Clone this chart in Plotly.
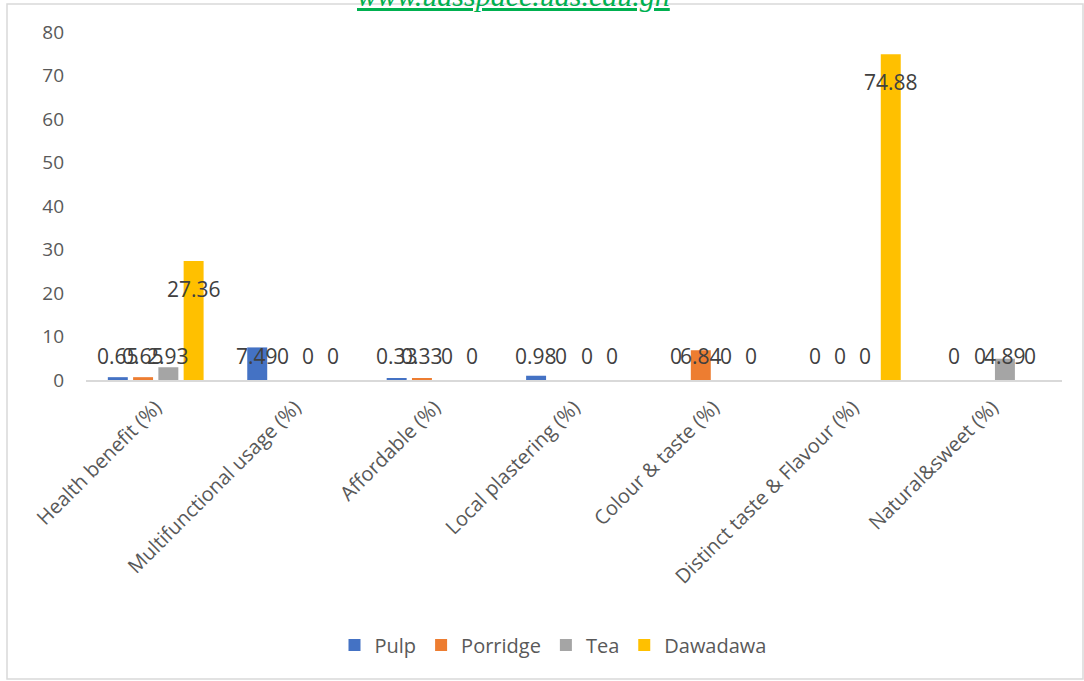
import plotly.graph_objects as go

categories = [
    "Health benefit (%)",
    "Multifunctional usage (%)",
    "Affordable (%)",
    "Local plastering (%)",
    "Colour & taste (%)",
    "Distinct taste & Flavour (%)",
    "Natural&sweet (%)",
]
pulp = [0.65, 7.49, 0.33, 0.98, 0, 0, 0]
porridge = [0.65, 0, 0.33, 0, 6.84, 0, 0]
tea = [2.93, 0, 0, 0, 0, 0, 4.89]
dawadawa = [27.36, 0, 0, 0, 0, 74.88, 0]

series = [
    ("Pulp", pulp, "#4472C4"),
    ("Porridge", porridge, "#ED7D31"),
    ("Tea", tea, "#A5A5A5"),
    ("Dawadawa", dawadawa, "#FFC000"),
]

FONT = "Open Sans"
W, H = 1084, 681
L, R, T, B = 86, 22, 32, 301
plot_w = W - L - R
plot_h = H - T - B

fig = go.Figure()
for name, vals, col in series:
    fig.add_trace(go.Bar(name=name, x=categories, y=vals, marker=dict(color=col, line_width=0)))

# data labels, one per bar, offset horizontally to sit over each bar in the group
slot_px = plot_w / len(categories) * (1 - 0.275) / len(series)
for i, (name, vals, col) in enumerate(series):
    for c, v in zip(categories, vals):
        big = v > 15
        fig.add_annotation(
            x=c, y=v if big else 0, xref="x", yref="y",
            text=f"{v:g}", showarrow=False,
            xshift=(i - 1.5) * slot_px,
            yshift=-28 if big else 24,
            yanchor="middle",
            font=dict(family=FONT, size=21, color="#404040"),
        )

def px_x(p):
    return (p - L) / plot_w

def px_y(p):
    return (H - B - p) / plot_h

# chart border
fig.add_shape(type="rect", xref="paper", yref="paper",
              x0=px_x(7), x1=px_x(1083), y0=px_y(679), y1=px_y(4),
              line=dict(color="#D9D9D9", width=1.5), fillcolor="rgba(0,0,0,0)", layer="below")

# repository header, running off the top edge
fig.add_annotation(
    x=px_x(513), y=px_y(14), xref="paper", yref="paper",
    text="<u>www.udsspace.uds.edu.gh</u>", showarrow=False,
    xanchor="center", yanchor="bottom",
    font=dict(family="Liberation Serif", size=30, color="#00B050", style="italic"),
)

fig.update_layout(
    width=W, height=H,
    margin=dict(l=L, r=R, t=T, b=B, autoexpand=False),
    paper_bgcolor="white", plot_bgcolor="white",
    barmode="group", bargap=0.275, bargroupgap=0.21,
    font=dict(family=FONT, color="#595959", size=19),
    showlegend=True,
    legend=dict(orientation="h", x=px_x(553), xanchor="center", y=px_y(645), yanchor="middle",
                font=dict(family=FONT, size=20, color="#595959"), itemwidth=30),
    xaxis=dict(tickangle=-45, showline=True, linecolor="#D9D9D9", linewidth=1.5,
               ticks="", showgrid=False, tickfont=dict(size=20), ticklabelstandoff=6),
    yaxis=dict(range=[0, 80], dtick=10, showgrid=False, zeroline=False, showline=False,
               ticks="", tickfont=dict(size=19), ticklabelstandoff=21),
)

fig.write_html("out.html")
